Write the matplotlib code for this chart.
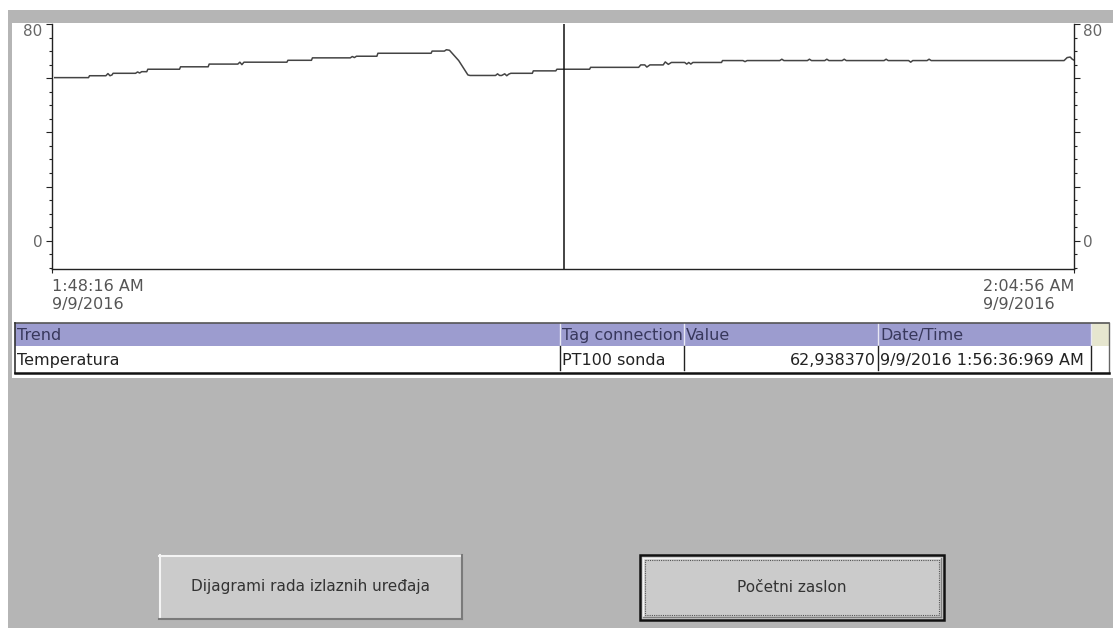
import matplotlib
matplotlib.use('Agg')
import matplotlib.pyplot as plt
from matplotlib.patches import Rectangle
from matplotlib.ticker import FixedLocator, MultipleLocator

# trend data: seconds since 1:48:16 AM, temperature
seconds = [3, 36, 37, 53, 55, 57, 59, 60, 82, 84, 86, 88, 93, 94, 125, 126,
           153, 154, 182, 184, 186, 188, 230, 231, 254, 255, 292, 294, 296, 298,
           318, 319, 371, 372, 384, 386, 389, 398, 407, 409, 434, 436, 438, 440,
           443, 445, 447, 449, 470, 471, 493, 494, 526, 527, 574, 576, 580, 582,
           585, 598, 600, 603, 606, 619, 621, 623, 625, 627, 655, 656, 676, 678,
           680, 712, 714, 716, 739, 741, 743, 756, 758, 760, 773, 775, 777, 814,
           816, 818, 838, 840, 842, 856, 858, 860, 990, 993, 996, 998, 1000]
temperature = [60.2, 60.2, 60.9, 60.9, 61.7, 60.9, 61.2, 61.8, 61.8, 62.3, 61.9, 62.4, 62.4, 63.3, 63.3, 64.2,
               64.2, 65.2, 65.2, 65.9, 65.0, 65.9, 65.9, 66.6, 66.6, 67.5, 67.5, 68.0, 67.6, 68.1,
               68.1, 69.2, 69.2, 70.0, 70.0, 70.5, 70.3, 66.5, 61.2, 61.0, 61.0, 61.6, 61.0, 61.0,
               61.6, 60.9, 61.5, 61.8, 61.8, 62.7, 62.7, 63.3, 63.3, 64.0, 64.0, 64.9, 64.9, 64.1,
               64.9, 64.9, 66.0, 65.1, 65.8, 65.8, 65.2, 65.8, 65.2, 65.8, 65.8, 66.5, 66.5, 66.1,
               66.5, 66.5, 67.0, 66.5, 66.5, 67.0, 66.5, 66.5, 67.0, 66.5, 66.5, 67.0, 66.5, 66.5,
               67.0, 66.5, 66.5, 65.9, 66.5, 66.5, 67.0, 66.5, 66.5, 67.6, 67.8, 67.0, 66.6]

cursor_t = 500.969
time_labels = ['1:48:16 AM\n9/9/2016', '2:04:56 AM\n9/9/2016']
y_labels = ['0', '', '', '', '80']

table_header = ['Trend', 'Tag connection', 'Value', 'Date/Time']
table_row = ['Temperatura', 'PT100 sonda', '62,938370', '9/9/2016 1:56:36:969 AM']
buttons = ['Dijagrami rada izlaznih uređaja', 'Početni zaslon']

W, H = 1113, 628
fig = plt.figure(figsize=(W / 100, H / 100), dpi=100)
fig.patch.set_facecolor('white')

# background / screen layer in pixel coords
bg = fig.add_axes([0, 0, 1, 1], zorder=0)
bg.set_xlim(0, W)
bg.set_ylim(H, 0)
bg.axis('off')

gray = '#b5b5b5'
bg.add_patch(Rectangle((8, 10), W - 8, H - 10, color=gray, lw=0))
bg.add_patch(Rectangle((12, 23), W - 12, 355, color='white', lw=0))

# table
x0, x1 = 15, 1109
cols = [15, 560, 684, 878, 1091]
hy0, hy1, ry1 = 323, 346, 373
bg.add_patch(Rectangle((x0, hy0), x1 - x0, hy1 - hy0, color='#9c9ccf', lw=0))
bg.add_patch(Rectangle((1091, hy0), x1 - 1091, hy1 - hy0, color='#e6e6cf', lw=0))
for c in cols[1:]:
    bg.plot([c, c], [hy0, hy1], color='#e8e8f4', lw=1)
    bg.plot([c, c], [hy1, ry1 - 3], color='#222222', lw=1)
bg.plot([x0, x1], [hy0, hy0], color='#555555', lw=1.2)
bg.plot([x0, x0], [hy0, ry1], color='#333333', lw=1.2)
bg.plot([x1, x1], [hy0, ry1], color='#666666', lw=1)
bg.plot([x0, x1], [ry1, ry1], color='#111111', lw=1.8)

tfs = 11.5
for i, txt in enumerate(table_header):
    bg.text(cols[i] + 2, 340, txt, fontsize=tfs, color='#38385c',
            ha='left', va='baseline')
for i, txt in enumerate(table_row):
    if i == 2:
        bg.text(cols[3] - 2, 365, txt, fontsize=tfs, color='#222222',
                ha='right', va='baseline')
    else:
        bg.text(cols[i] + 2, 365, txt, fontsize=tfs, color='#222222',
                ha='left', va='baseline')

# buttons
def draw_button(x, y, w, h, label, focused=False):
    face = '#cbcbcb'
    if focused:
        bg.add_patch(Rectangle((x, y), w, h, facecolor=face, edgecolor='#111111', lw=1.8))
        bg.plot([x + 3, x + w - 3], [y + 3, y + 3], color='#f4f4f4', lw=1)
        bg.plot([x + 3, x + 3], [y + 3, y + h - 3], color='#f4f4f4', lw=1)
        bg.plot([x + 3, x + w - 3], [y + h - 3, y + h - 3], color='#808080', lw=1)
        bg.plot([x + w - 3, x + w - 3], [y + 3, y + h - 3], color='#808080', lw=1)
        bg.add_patch(Rectangle((x + 5, y + 5), w - 10, h - 10, facecolor='none',
                               edgecolor='#555555', lw=0.8, ls=(0, (1, 1))))
    else:
        bg.add_patch(Rectangle((x, y), w, h, facecolor=face, edgecolor='none'))
        bg.plot([x, x + w], [y + 1, y + 1], color='#f4f4f4', lw=1.5)
        bg.plot([x + 1, x + 1], [y, y + h], color='#f4f4f4', lw=1.5)
        bg.plot([x, x + w], [y + h, y + h], color='#7a7a7a', lw=1.5)
        bg.plot([x + w, x + w], [y, y + h], color='#7a7a7a', lw=1.5)
    bg.text(x + w / 2, y + h / 2, label, fontsize=11, color='#333333',
            ha='center', va='center')

draw_button(159, 555, 303, 64, buttons[0])
draw_button(640, 555, 304, 65, buttons[1], focused=True)

# trend chart
ax_l = 51.7 / W
ax_r = 1074.3 / W
ax_b = 1 - 269 / H
ax_t = 1 - 24 / H
ax = fig.add_axes([ax_l, ax_b, ax_r - ax_l, ax_t - ax_b], zorder=1)
ax.set_facecolor('none')
ax.plot(seconds, temperature, color='#444444', lw=1.1)
ax.axvline(cursor_t, color='#111111', lw=1.1)

ax.set_xlim(0, 1000)
ax.set_ylim(-10.45, 80)
for s in ['left', 'right', 'bottom']:
    ax.spines[s].set_color('#222222')
    ax.spines[s].set_linewidth(1.0)
ax.spines['top'].set_visible(False)

ax.yaxis.set_major_locator(FixedLocator([0, 20, 40, 60, 80]))
ax.yaxis.set_minor_locator(MultipleLocator(5))
ax.set_yticklabels(y_labels)
ax.tick_params(axis='y', which='both', left=True, right=True,
               labelleft=True, labelright=True, colors='#222222',
               labelcolor='#666666', labelsize=11, pad=2)
ax.tick_params(axis='y', which='major', length=4.5, width=0.8)
ax.tick_params(axis='y', which='minor', length=2.5, width=0.8)

ax.set_xticks([0, 1000])
ax.set_xticklabels(time_labels, linespacing=1.25)
ax.tick_params(axis='x', which='major', length=3, width=0.8, colors='#222222',
               labelcolor='#555555', labelsize=11.5, pad=4)
for lbl, ha in zip(ax.get_xticklabels(), ['left', 'right']):
    lbl.set_ha(ha)
    lbl.set_multialignment('left')

# the 80 labels sit below their tick, as in the HMI
for t in ax.yaxis.get_major_ticks():
    if t.label1.get_text() == '80':
        t.label1.set_va('top')
    if t.label2.get_text() == '80':
        t.label2.set_va('top')

fig.savefig('out.png', dpi=100)
